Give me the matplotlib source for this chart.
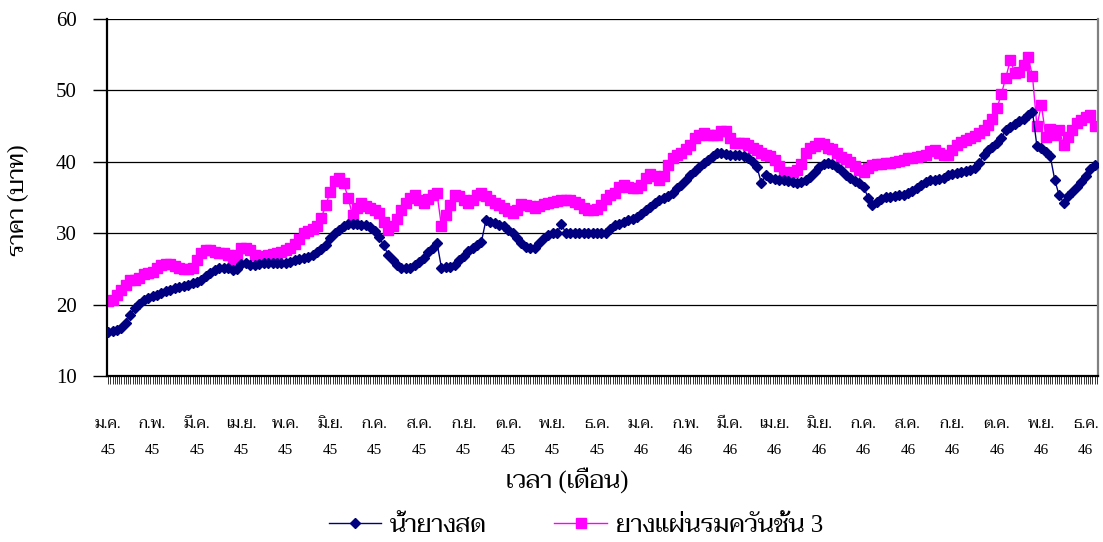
import matplotlib
matplotlib.use("Agg")
import matplotlib.pyplot as plt
import numpy as np

# ====== Data (price, baht) read every 2nd trading day ====== #
N_DAYS = 446
STEP = 2
MONTHS = ["ม.ค.", "ก.พ.", "มี.ค.", "เม.ย.", "พ.ค.", "มิ.ย.", "ก.ค.", "ส.ค.", "ก.ย.", "ต.ค.", "พ.ย.", "ธ.ค.",
          "ม.ค.", "ก.พ.", "มี.ค.", "เม.ย.", "มิ.ย.", "ก.ค.", "ส.ค.", "ก.ย.", "ต.ค.", "พ.ย.", "ธ.ค."]
YEARS = ["45"] * 12 + ["46"] * 11

LATEX = [16.2, 16.3, 16.5, 16.8, 17.5, 18.6, 19.5, 20.1, 20.6, 20.9,
         21.2, 21.4, 21.7, 21.9, 22.1, 22.3, 22.5, 22.6, 22.8, 23.0,
         23.2, 23.5, 24.0, 24.4, 24.9, 25.1, 25.1, 25.1, 24.9, 25.0,
         25.7, 25.8, 25.5, 25.6, 25.7, 25.8, 25.8, 25.8, 25.8, 25.8,
         25.9, 26.0, 26.3, 26.4, 26.6, 26.7, 27.0, 27.4, 27.8, 28.4,
         29.3, 30.0, 30.5, 31.0, 31.3, 31.3, 31.3, 31.2, 31.2, 30.9,
         30.3, 29.5, 28.3, 27.0, 26.2, 25.6, 25.1, 25.1, 25.1, 25.5,
         26.0, 26.6, 27.4, 28.0, 28.7, 25.2, 25.3, 25.3, 25.6, 26.2,
         26.8, 27.5, 28.0, 28.3, 28.8, 31.8, 31.6, 31.4, 31.2, 31.0,
         30.5, 30.0, 29.3, 28.6, 28.1, 27.9, 28.0, 28.6, 29.3, 29.7,
         30.0, 30.0, 31.3, 30.0, 30.0, 30.0, 30.0, 30.0, 30.0, 30.0,
         30.0, 30.0, 30.1, 30.6, 31.1, 31.3, 31.6, 31.8, 32.0, 32.3,
         32.7, 33.2, 33.7, 34.2, 34.6, 34.9, 35.2, 35.7, 36.3, 36.8,
         37.5, 38.2, 38.7, 39.3, 39.8, 40.3, 40.8, 41.2, 41.2, 41.1,
         41.0, 41.0, 41.0, 40.8, 40.5, 40.0, 39.3, 37.0, 38.2, 37.8,
         37.6, 37.5, 37.4, 37.3, 37.2, 37.0, 37.2, 37.5, 37.9, 38.6,
         39.3, 39.7, 39.8, 39.7, 39.3, 38.8, 38.2, 37.7, 37.3, 37.0,
         36.5, 35.0, 34.0, 34.4, 34.8, 35.1, 35.1, 35.2, 35.3, 35.4,
         35.6, 35.9, 36.3, 36.8, 37.2, 37.4, 37.5, 37.6, 37.8, 38.1,
         38.3, 38.4, 38.6, 38.7, 38.9, 39.2, 39.8, 41.0, 41.6, 42.1,
         42.6, 43.3, 44.5, 44.9, 45.3, 45.7, 46.0, 46.5, 47.0, 42.2,
         42.0, 41.4, 40.8, 37.5, 35.3, 34.3, 35.2, 35.8, 36.5, 37.2,
         38.0, 39.0, 39.6]

RSS3 = [20.5, 20.7, 21.3, 22.0, 22.8, 23.4, 23.5, 23.7, 24.3, 24.4,
        24.6, 25.2, 25.5, 25.7, 25.7, 25.4, 25.1, 25.0, 25.0, 25.2,
        26.3, 27.3, 27.6, 27.6, 27.4, 27.3, 27.2, 27.0, 26.3, 27.0,
        28.0, 27.9, 27.6, 27.0, 26.7, 26.8, 27.0, 27.1, 27.3, 27.4,
        27.6, 28.0, 28.5, 29.2, 30.0, 30.3, 30.6, 31.0, 32.2, 34.0,
        35.8, 37.3, 37.8, 37.0, 35.0, 32.5, 33.5, 34.3, 33.8, 33.5,
        33.3, 32.8, 31.6, 30.5, 31.0, 32.0, 33.2, 34.2, 35.0, 35.4,
        34.6, 34.2, 34.8, 35.4, 35.6, 31.0, 32.6, 34.0, 35.3, 35.2,
        34.6, 34.2, 34.7, 35.3, 35.6, 35.2, 34.6, 34.3, 34.0, 33.5,
        33.1, 32.8, 33.3, 34.1, 34.0, 33.8, 33.6, 33.8, 34.1, 34.2,
        34.4, 34.5, 34.7, 34.7, 34.6, 34.4, 34.1, 33.6, 33.3, 33.3,
        33.4, 33.9, 34.8, 35.4, 35.7, 36.5, 36.7, 36.5, 36.3, 36.4,
        36.8, 37.8, 38.3, 38.0, 37.5, 38.0, 39.6, 40.6, 41.0, 41.3,
        41.8, 42.3, 43.3, 43.8, 44.0, 43.8, 43.7, 43.8, 44.3, 44.3,
        43.4, 42.7, 42.6, 42.6, 42.4, 42.0, 41.6, 41.3, 41.0, 40.8,
        40.3, 39.4, 38.6, 38.4, 38.6, 38.9, 39.7, 41.2, 41.9, 42.2,
        42.6, 42.5, 42.0, 41.8, 41.2, 40.7, 40.4, 40.0, 39.4, 38.9,
        38.6, 39.2, 39.6, 39.7, 39.7, 39.8, 39.9, 40.0, 40.1, 40.3,
        40.5, 40.6, 40.7, 40.8, 41.0, 41.5, 41.7, 41.3, 41.0, 41.0,
        41.6, 42.3, 42.8, 43.0, 43.3, 43.6, 44.0, 44.5, 45.2, 46.0,
        47.5, 49.5, 51.8, 54.2, 52.5, 52.6, 53.5, 54.7, 52.0, 45.0,
        48.0, 43.5, 44.6, 43.8, 44.5, 42.3, 43.5, 44.5, 45.5, 45.9,
        46.3, 46.5, 45.0]

# Times-like digits, looped serif Thai for the rest
plt.rcParams["font.family"] = ["Liberation Serif", "Taviraj", "DejaVu Sans"]

# ====== Plot ====== #
fig = plt.figure(figsize=(11.03, 5.42), dpi=100)
ax = fig.add_axes([0.097, 0.306, 0.8985, 0.659])

x = np.arange(len(LATEX)) * STEP
ax.plot(x, LATEX, color="#000080", lw=1, marker="D", ms=5, mec="#000080", mfc="#000080",
        label="น้ำยางสด", zorder=3)
ax.plot(x, RSS3, color="#FF00FF", lw=1, marker="s", ms=7, mec="#FF00FF", mfc="#FF00FF",
        label="ยางแผ่นรมควันชั้น 3", zorder=2)

ax.set_xlim(-0.5, N_DAYS - 0.5)
ax.set_ylim(10, 60)
ax.set_yticks(range(10, 61, 10))
ax.yaxis.grid(True, color="black", lw=0.9)
ax.set_axisbelow(True)
ax.tick_params(axis="y", direction="out", length=10, width=1, pad=12, labelsize=15)

ax.set_xticks(np.arange(0, N_DAYS, 20))
ax.set_xticks(np.arange(N_DAYS), minor=True)
ax.set_xticklabels([f"{m}\n{y}" for m, y in zip(MONTHS, YEARS)])
ax.tick_params(axis="x", which="both", direction="out", length=6, width=0.7, color="#333333")
ax.tick_params(axis="x", which="major", pad=24, labelsize=11)
for lab in ax.get_xticklabels():
    lab.set_linespacing(2.3)

for side in ["left", "bottom"]:
    ax.spines[side].set_linewidth(1.6)
ax.spines["top"].set_visible(False)
ax.spines["right"].set_color("#808080")
ax.spines["right"].set_linewidth(1.6)

fig.text(0.017, 0.63, "ราคา (บาท)", rotation=90, ha="center", va="center", fontsize=17)
fig.text(0.514, 0.115, "เวลา (เดือน)", ha="center", va="center", fontsize=18)
fig.legend(loc="center", bbox_to_anchor=(0.522, 0.03), ncol=2, frameon=False, fontsize=18,
           handlelength=2.1, columnspacing=2.7, handletextpad=0.35)

fig.savefig("out.png", dpi=100)
